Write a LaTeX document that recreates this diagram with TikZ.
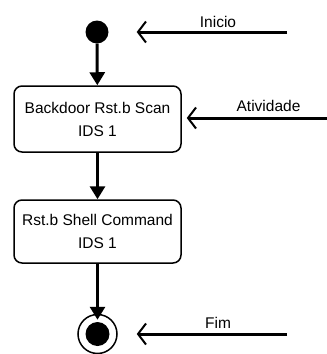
\documentclass[tikz,border=0pt]{standalone}
\usepackage{fontspec}
\setmainfont{Liberation Sans}
\usetikzlibrary{arrows.meta}
\begin{document}
\begin{tikzpicture}[x=1pt,y=-1pt,
  every node/.style={font=\fontsize{15.5}{23}\selectfont, inner sep=0pt},
  activity/.style={draw, line width=1.5pt, rounded corners=8pt,
    minimum width=167pt, align=center},
  flow/.style={line width=3pt, -{Triangle[length=13pt,width=15pt]}},
  pointer/.style={line width=3pt,
    -{Straight Barb[length=8pt,width=21pt,line width=2pt]}},
  lbl/.style={anchor=base}]
\useasboundingbox (0,0) rectangle (327,354);

% start and end states
\node (start) [circle, fill, minimum size=23pt] at (97,32) {};
\node (endout) [circle, draw, line width=1.5pt, minimum size=39pt] at (97.5,334) {};
\node (endin) [circle, fill, minimum size=24pt] at (97.5,334) {};

% activities
\node (a1) [activity, minimum height=66pt] at (97.5,119) {Backdoor Rst.b Scan\\IDS 1};
\node (a2) [activity, minimum height=63pt] at (97.5,231.5) {Rst.b Shell Command\\IDS 1};

% control flow
\draw[flow] (start) -- (a1);
\draw[flow] (a1) -- (a2);
\draw[flow] (a2) -- ([yshift=-6pt]endout.north);

% annotations
\coordinate (p1) at (287,32);
\coordinate (p2) at (327,118);
\coordinate (p3) at (287,334);
\draw[pointer] (p1) -- ([xshift=28pt]start.east |- p1);
\draw[pointer] (p2) -- ([xshift=5pt]a1.east |- p2);
\draw[pointer] (p3) -- ([xshift=19pt]endout.east |- p3);
\node (l1) [lbl] at (218,27) {Inicio};
\node (l2) [lbl] at (268.5,111.5) {Atividade};
\node (l3) [lbl] at (218,328) {Fim};
\end{tikzpicture}
\end{document}
